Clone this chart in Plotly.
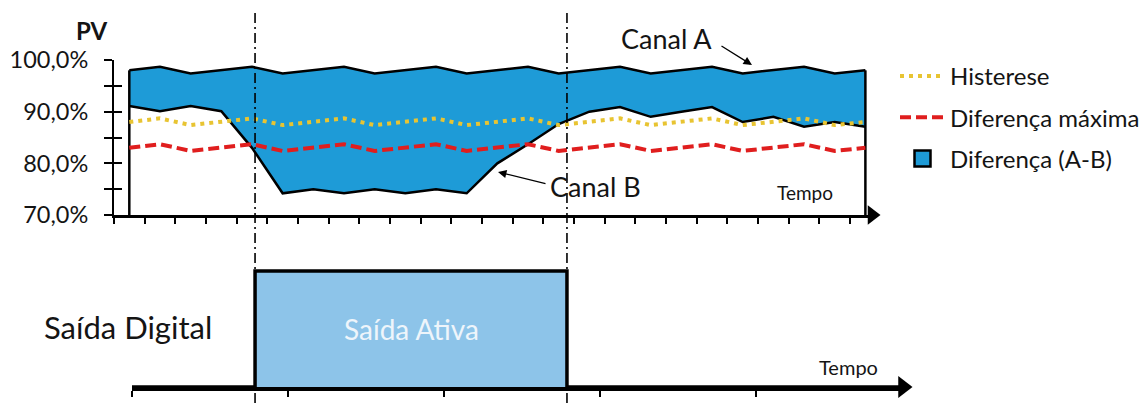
import plotly.graph_objects as go

W, H = 1146, 403
FONT = "Lato"

# ---------------- data ----------------
tempo = list(range(25))
canal_a = [98.0, 98.7, 97.4, 98.0, 98.7, 97.4, 98.0, 98.7, 97.4, 98.0, 98.7, 97.4, 98.0,
           98.7, 97.4, 98.0, 98.7, 97.4, 98.0, 98.7, 97.4, 98.0, 98.7, 97.4, 98.0]
canal_b = [91.1, 90.1, 91.1, 90.1, 83.0, 74.2, 75.0, 74.2, 75.0, 74.2, 75.0, 74.2, 80.0,
           83.7, 87.6, 90.0, 90.9, 89.0, 90.0, 90.9, 88.0, 89.0, 87.1, 88.0, 87.1]
histerese = [88.0, 88.7, 87.4, 88.0, 88.7, 87.4, 88.0, 88.7, 87.4, 88.0, 88.7, 87.4, 88.0,
             88.7, 87.4, 88.0, 88.7, 87.4, 88.0, 88.7, 87.4, 88.0, 88.7, 87.4, 88.0]
dif_maxima = [83.0, 83.7, 82.4, 83.0, 83.7, 82.4, 83.0, 83.7, 82.4, 83.0, 83.7, 82.4, 83.0,
              83.7, 82.4, 83.0, 83.7, 82.4, 83.0, 83.7, 82.4, 83.0, 83.7, 82.4, 83.0]
y_ticks = [70, 75, 80, 85, 90, 95, 100]
y_tick_labels = ["70,0%", "", "80,0%", "", "90,0%", "", "100,0%"]
saida_on = 4.1      # instant the output switches on
saida_off = 14.27   # instant the output switches off
saida_estado = [0, 0, 1, 1, 0, 0]

# ---------------- layout geometry (pixels) ----------------
X0_PX, DX_PX = 129.3, 30.67          # pixel of tempo 0 and pixels per step
def px_to_t(px):
    return (px - X0_PX) / DX_PX
def pxx(px):
    return px / W
def pxy(py):
    return 1 - py / H

top_x_rng = [-0.5, px_to_t(872)]
top_x_dom = [pxx(X0_PX - 0.5 * DX_PX), pxx(872)]
top_y_dom = [pxy(215), pxy(60)]
bot_x_rng = [px_to_t(132), px_to_t(903)]
bot_x_dom = [pxx(132), pxx(903)]
bot_y_rng = [0, 1.15]
bot_y_dom = [pxy(387), pxy(387 - 1.15 * 116)]

y_min = y_ticks[0]
saida_t = [bot_x_rng[0], saida_on, saida_on, saida_off, saida_off, bot_x_rng[1]]

BLUE = "rgb(30,155,215)"
LIGHT = "rgb(141,196,233)"
YEL = "rgb(232,196,50)"
RED = "rgb(224,30,30)"
TXT = "#141414"

fig = go.Figure()

# Canal B (lower line)
fig.add_trace(go.Scatter(x=tempo, y=canal_b, mode="lines", line=dict(color="black", width=2.5),
                         showlegend=False, hoverinfo="skip", xaxis="x", yaxis="y"))
# Canal A with fill down to B
fig.add_trace(go.Scatter(x=tempo, y=canal_a, mode="lines", line=dict(color="black", width=2.5),
                         fill="tonexty", fillcolor=BLUE, showlegend=False, hoverinfo="skip",
                         xaxis="x", yaxis="y"))
# side edges of the band area
fig.add_trace(go.Scatter(x=[tempo[0], tempo[0], None, tempo[-1], tempo[-1]],
                         y=[y_min, canal_a[0], None, y_min, canal_a[-1]],
                         mode="lines", line=dict(color="black", width=2.5),
                         showlegend=False, hoverinfo="skip", xaxis="x", yaxis="y"))
# Histerese
fig.add_trace(go.Scatter(x=tempo, y=histerese, mode="lines", name="Histerese",
                         line=dict(color=YEL, width=4, dash="4px,5px"),
                         legendgroup="g1", xaxis="x", yaxis="y"))
# Diferença máxima
fig.add_trace(go.Scatter(x=tempo, y=dif_maxima, mode="lines", name="Diferença máxima",
                         line=dict(color=RED, width=4, dash="11px,5px"),
                         legendgroup="g2", xaxis="x", yaxis="y"))
# legend entry for the band
fig.add_trace(go.Scatter(x=[None], y=[None], mode="markers", name="Diferença (A-B)",
                         marker=dict(symbol="square", size=16, color=BLUE,
                                     line=dict(color="black", width=2.5)),
                         legendgroup="g3", xaxis="x", yaxis="y"))
# axis arrow heads
fig.add_trace(go.Scatter(x=[top_x_rng[1]], y=[y_min], mode="markers", cliponaxis=False,
                         marker=dict(symbol="triangle-right", size=17, color="black"),
                         showlegend=False, hoverinfo="skip", xaxis="x", yaxis="y"))
# dummy trace for crossing ticks axis
fig.add_trace(go.Scatter(x=[None], y=[None], showlegend=False, xaxis="x", yaxis="y3"))

# Digital output
fig.add_trace(go.Scatter(x=saida_t, y=saida_estado, mode="lines", fill="tozeroy",
                         fillcolor=LIGHT, line=dict(color="black", width=3.5),
                         showlegend=False, hoverinfo="skip", xaxis="x2", yaxis="y2"))
fig.add_trace(go.Scatter(x=[bot_x_rng[1]], y=[0], mode="markers", cliponaxis=False,
                         marker=dict(symbol="triangle-right", size=19, color="black"),
                         showlegend=False, hoverinfo="skip", xaxis="x2", yaxis="y2"))

# vertical dash-dot switching lines
for t in (saida_on, saida_off):
    fig.add_shape(type="line", xref="x", yref="paper", x0=t, x1=t, y0=0, y1=pxy(13),
                  line=dict(color="black", width=1.6, dash="10px,4px,2px,4px"), layer="above")

tick_top = [i - 0.5 for i in range(25)]

fig.update_layout(
    width=W, height=H, margin=dict(l=0, r=0, t=0, b=0, autoexpand=False),
    paper_bgcolor="white", plot_bgcolor="rgba(0,0,0,0)",
    font=dict(family=FONT, color=TXT),
    xaxis=dict(domain=top_x_dom, range=top_x_rng, anchor="y", showgrid=False, zeroline=False,
               showline=True, linecolor="black", linewidth=2.5, ticks="outside",
               tickvals=tick_top, ticklen=6, tickwidth=1.5, tickcolor="black",
               showticklabels=False, automargin=False),
    yaxis=dict(domain=top_y_dom, range=[y_ticks[0], y_ticks[-1]], anchor="x", showgrid=False,
               zeroline=False, showline=True, linecolor="black", linewidth=2,
               ticks="outside", ticklen=8, tickwidth=2, tickcolor="black",
               tickvals=y_ticks, ticktext=y_tick_labels, ticklabelstandoff=11,
               tickfont=dict(size=23.5, family=FONT, color=TXT), automargin=False),
    yaxis3=dict(overlaying="y", anchor="x", side="left", range=[y_ticks[0], y_ticks[-1]],
                showgrid=False, zeroline=False, showline=False, ticks="inside", ticklen=8,
                tickwidth=2, tickcolor="black", tickvals=y_ticks, showticklabels=False,
                automargin=False),
    xaxis2=dict(domain=bot_x_dom, range=bot_x_rng, anchor="y2", showgrid=False, zeroline=False,
                showline=True, linecolor="black", linewidth=3.5, ticks="outside",
                tick0=bot_x_rng[0], dtick=5.09, ticklen=6, tickwidth=1.5, tickcolor="black",
                showticklabels=False, automargin=False),
    yaxis2=dict(domain=bot_y_dom, range=bot_y_rng, anchor="x2", visible=False, automargin=False),
    legend=dict(x=pxx(895), y=pxy(54), xanchor="left", yanchor="top",
                font=dict(size=24, family=FONT, color=TXT),
                bgcolor="rgba(0,0,0,0)", tracegroupgap=7, itemwidth=45),
    showlegend=True,
)

ann = [
    dict(text="<b>PV</b>", x=pxx(92), y=pxy(31), size=24),
    dict(text="Canal A", x=pxx(666), y=pxy(38), size=27),
    dict(text="Canal B", x=pxx(595), y=pxy(186), size=27),
    dict(text="Tempo", x=pxx(805), y=pxy(192), size=19),
    dict(text="Tempo", x=pxx(848), y=pxy(367), size=20),
    dict(text="Saída Digital", x=pxx(128), y=pxy(327), size=31),
]
for a in ann:
    fig.add_annotation(text=a["text"], x=a["x"], y=a["y"], xref="paper", yref="paper",
                       showarrow=False, xanchor="center", yanchor="middle",
                       font=dict(size=a["size"], family=FONT, color=TXT))
fig.add_annotation(text="Saída Ativa", x=(saida_on + saida_off) / 2, y=0.5, xref="x2", yref="y2",
                   showarrow=False, font=dict(size=28, family=FONT, color="#eef5fb"))
# pointer arrows
for head, tail in (((752, 65), (720, 45)), ((498, 172), (547, 184))):
    fig.add_annotation(text="", x=pxx(head[0]), y=pxy(head[1]), xref="paper", yref="paper",
                       ax=tail[0] - head[0], ay=tail[1] - head[1], axref="pixel", ayref="pixel",
                       showarrow=True, arrowhead=2, arrowsize=1.3, arrowwidth=1.3,
                       arrowcolor="black", standoff=0)

fig.write_html("out.html", config={"displayModeBar": False},
               post_script="document.body.style.margin='0px';document.body.style.overflow='hidden';")
